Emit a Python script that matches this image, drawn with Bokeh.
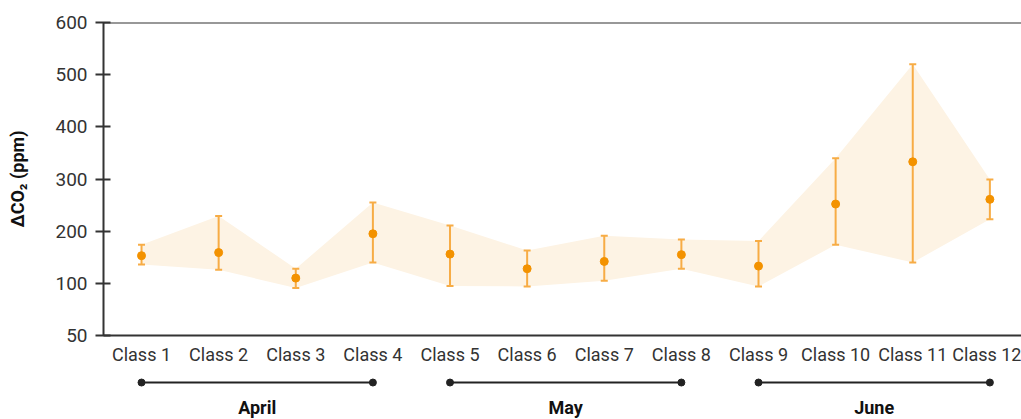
from bokeh.plotting import figure
from bokeh.models import ColumnDataSource, Range1d, FixedTicker, Span
from bokeh.layouts import column
from bokeh.embed import file_html
from bokeh.resources import INLINE
from bokeh.core.properties import value

# ---- data ----
classes = ["Class 1", "Class 2", "Class 3", "Class 4", "Class 5", "Class 6",
           "Class 7", "Class 8", "Class 9", "Class 10", "Class 11", "Class 12"]
mean_co2 = [153, 159, 110, 195, 156, 128, 142, 155, 133, 252, 333, 261]
upper_co2 = [174, 229, 128, 255, 211, 163, 191, 184, 181, 340, 520, 299]
lower_co2 = [136, 126, 91, 140, 95, 94, 105, 128, 94, 174, 140, 223]
months = ["April", "May", "June"]
month_start = [1, 5, 9]
month_end = [4, 8, 12]
y_ticks = [0, 100, 200, 300, 400, 500, 600]
y_tick_labels = ["50", "100", "200", "300", "400", "500", "600"]

xs = list(range(1, len(classes) + 1))
src = ColumnDataSource(dict(x=xs, mean=mean_co2, upper=upper_co2, lower=lower_co2))

FONT = "Roboto"
AX = "#333333"
ORANGE = "#F39200"
BAR = "#F7AC45"
FILL = "#FDF3E4"

p = figure(width=1021, height=368, x_range=Range1d(0.507, 12.41), y_range=Range1d(0, 600),
           output_backend="svg", toolbar_location=None,
           min_border_top=22, min_border_left=103, min_border_right=0, min_border_bottom=33)
p.outline_line_color = None
p.grid.visible = False
p.background_fill_color = "white"
p.border_fill_color = "white"

p.varea(x="x", y1="lower", y2="upper", source=src, fill_color=FILL)
p.segment(x0="x", x1="x", y0="lower", y1="upper", source=src, line_color=BAR, line_width=2)
p.scatter(x="x", y="upper", source=src, marker="dash", size=7, line_color=BAR, line_width=2)
p.scatter(x="x", y="lower", source=src, marker="dash", size=7, line_color=BAR, line_width=2)
p.scatter(x="x", y="mean", source=src, size=8, color=ORANGE)

p.add_layout(Span(location=y_ticks[-1], dimension="width", line_color=AX, line_width=2))

# y axis
p.yaxis.ticker = FixedTicker(ticks=y_ticks)
p.yaxis.major_label_overrides = {t: l for t, l in zip(y_ticks, y_tick_labels)}
p.yaxis.axis_line_color = AX
p.yaxis.axis_line_width = 2
p.yaxis.major_tick_line_color = AX
p.yaxis.major_tick_line_width = 2
p.yaxis.major_tick_in = 7
p.yaxis.major_tick_out = 8
p.yaxis.minor_tick_line_color = None
p.yaxis.major_label_text_font = FONT
p.yaxis.major_label_text_font_size = "19px"
p.yaxis.major_label_text_color = AX
p.yaxis.major_label_standoff = 8
p.yaxis.axis_label = "ΔCO₂ (ppm)"
p.yaxis.axis_label_text_font = FONT
p.yaxis.axis_label_text_font_style = "bold"
p.yaxis.axis_label_text_font_size = "18px"
p.yaxis.axis_label_text_color = "#111111"
p.yaxis.axis_label_standoff = 24

# x axis
p.xaxis.ticker = FixedTicker(ticks=xs)
p.xaxis.major_label_overrides = {x: c for x, c in zip(xs, classes)}
p.xaxis.axis_line_color = AX
p.xaxis.axis_line_width = 2
p.xaxis.major_tick_line_color = None
p.xaxis.major_tick_in = 0
p.xaxis.major_tick_out = 0
p.xaxis.minor_tick_line_color = None
p.xaxis.major_label_text_font = FONT
p.xaxis.major_label_text_font_size = "18px"
p.xaxis.major_label_text_color = AX
p.xaxis.major_label_standoff = 8

# month brackets
p2 = figure(width=1021, height=51, x_range=p.x_range, y_range=Range1d(0, 1),
            output_backend="svg", toolbar_location=None,
            x_axis_location=None, y_axis_location=None,
            min_border_top=0, min_border_left=103, min_border_right=0, min_border_bottom=0)
p2.outline_line_color = None
p2.grid.visible = False
p2.background_fill_color = "white"
p2.border_fill_color = "white"

msrc = ColumnDataSource(dict(
    x0=month_start, x1=month_end,
    mid=[(a + b) / 2 for a, b in zip(month_start, month_end)],
    name=months,
    yl=[0.725] * len(months), yt=[0.235] * len(months)))
p2.segment(x0="x0", x1="x1", y0="yl", y1="yl", source=msrc, line_color="#222222", line_width=2)
p2.scatter(x="x0", y="yl", source=msrc, size=7, color="#222222")
p2.scatter(x="x1", y="yl", source=msrc, size=7, color="#222222")
p2.text(x="mid", y="yt", text="name", source=msrc, text_font=value(FONT),
        text_font_style="bold", text_font_size="18px", text_color="#111111",
        text_align="center", text_baseline="middle")

layout = column(p, p2)
open("out.html", "w").write(file_html(layout, INLINE))
